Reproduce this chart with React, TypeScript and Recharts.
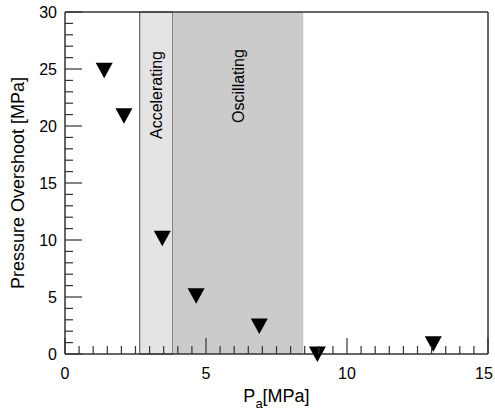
import {
  ScatterChart,
  Scatter,
  XAxis,
  YAxis,
  ReferenceArea,
  Label,
} from "recharts";

const pressureA = [1.39, 2.09, 3.45, 4.65, 6.89, 8.95, 13.06];
const overshoot = [24.9, 20.9, 10.15, 5.1, 2.45, 0, 0.9];

const accelRange = [2.65, 3.82];
const oscRange = [3.82, 8.45];

const xTicks = Array.from({ length: 31 }, (_, i) => i * 0.5);
const yTicks = Array.from({ length: 31 }, (_, i) => i);

const points = pressureA.map((p, i) => ({ p, y: overshoot[i] }));

const FONT = "'Liberation Sans', Arial, sans-serif";
const AXIS = "#333";

const isMajor = (v: number) => v % 5 === 0;

function BottomTick({ x, y, payload }: any) {
  const major = isMajor(payload.value);
  // keep the last label inside the picture
  const tx = Math.min(x, 484);
  return (
    <g>
      <line x1={x} y1={y} x2={x} y2={y - (major ? 16 : 8)} stroke={AXIS} strokeWidth={1.2} />
      {major && (
        <text x={tx} y={y + 25} textAnchor="middle" fontSize={16} fontFamily={FONT} fill="#000">
          {payload.value}
        </text>
      )}
    </g>
  );
}

function TopTick({ x, y, payload }: any) {
  const major = isMajor(payload.value);
  return <line x1={x} y1={y} x2={x} y2={y + (major ? 16 : 8)} stroke={AXIS} strokeWidth={1.2} />;
}

function LeftTick({ x, y, payload }: any) {
  const major = isMajor(payload.value);
  return (
    <g>
      <line x1={x} y1={y} x2={x + (major ? 17 : 8)} y2={y} stroke={AXIS} strokeWidth={1.2} />
      {major && (
        <text x={x - 8} y={y + 6} textAnchor="end" fontSize={16} fontFamily={FONT} fill="#000">
          {payload.value}
        </text>
      )}
    </g>
  );
}

function RightTick({ x, y, payload }: any) {
  const major = isMajor(payload.value);
  return <line x1={x} y1={y} x2={x - (major ? 17 : 8)} y2={y} stroke={AXIS} strokeWidth={1.2} />;
}

function TriangleDown({ cx, cy }: any) {
  return (
    <polygon
      points={`${cx - 8.5},${cy - 7.5} ${cx + 8.5},${cy - 7.5} ${cx},${cy + 8}`}
      fill="#000"
    />
  );
}

function regionLabel(text: string, dy: number) {
  return ({ viewBox }: any) => {
    const cx = viewBox.x + viewBox.width / 2 + 6;
    const cy = viewBox.y + dy;
    return (
      <text
        x={cx}
        y={cy}
        transform={`rotate(-90, ${cx}, ${cy})`}
        textAnchor="middle"
        fontSize={16}
        fontFamily={FONT}
        fill="#000"
      >
        {text}
      </text>
    );
  };
}

export default function App() {
  return (
    <div style={{ position: "absolute", left: 0, top: 0 }}>
      <ScatterChart
        width={495}
        height={416}
        margin={{ top: 11, right: 6, bottom: 61, left: 64 }}
      >
        <ReferenceArea
          x1={accelRange[0]}
          x2={accelRange[1]}
          fill="#e4e4e4"
          fillOpacity={1}
          stroke="#444"
          strokeWidth={1}
        >
          <Label content={regionLabel("Accelerating", 83)} />
        </ReferenceArea>
        <ReferenceArea x1={oscRange[0]} x2={oscRange[1]} fill="#cbcbcb" fillOpacity={1}>
          <Label content={regionLabel("Oscillating", 74)} />
        </ReferenceArea>
        <XAxis
          type="number"
          dataKey="p"
          domain={[0, 15]}
          ticks={xTicks}
          interval={0}
          height={1}
          tickSize={0}
          tickMargin={0}
          tickLine={false}
          tick={<BottomTick />}
          axisLine={{ stroke: AXIS, strokeWidth: 1.5 }}
        >
          <Label
            content={({ viewBox }: any) => (
              <text
                x={viewBox.x + viewBox.width / 2}
                y={viewBox.y + 48}
                textAnchor="middle"
                fontSize={18}
                fontFamily={FONT}
                fill="#000"
              >
                <tspan>P</tspan>
                <tspan fontSize={13} dy={6}>a</tspan>
                <tspan dy={-6}>[MPa]</tspan>
              </text>
            )}
          />
        </XAxis>
        <XAxis
          xAxisId="top"
          orientation="top"
          type="number"
          domain={[0, 15]}
          ticks={xTicks}
          interval={0}
          height={1}
          tickSize={0}
          tickMargin={0}
          tickLine={false}
          tick={<TopTick />}
          axisLine={{ stroke: AXIS, strokeWidth: 1.5 }}
        />
        <YAxis
          type="number"
          dataKey="y"
          domain={[0, 30]}
          ticks={yTicks}
          interval={0}
          width={1}
          tickSize={0}
          tickMargin={0}
          tickLine={false}
          tick={<LeftTick />}
          axisLine={{ stroke: AXIS, strokeWidth: 1.5 }}
        >
          <Label
            content={({ viewBox }: any) => {
              const x = viewBox.x + viewBox.width - 41;
              const y = viewBox.y + viewBox.height / 2;
              return (
                <text
                  x={x}
                  y={y}
                  transform={`rotate(-90, ${x}, ${y})`}
                  textAnchor="middle"
                  fontSize={18}
                  fontFamily={FONT}
                  fill="#000"
                >
                  Pressure Overshoot [MPa]
                </text>
              );
            }}
          />
        </YAxis>
        <YAxis
          yAxisId="right"
          orientation="right"
          type="number"
          domain={[0, 30]}
          ticks={yTicks}
          interval={0}
          width={1}
          tickSize={0}
          tickMargin={0}
          tickLine={false}
          tick={<RightTick />}
          axisLine={{ stroke: AXIS, strokeWidth: 1.5 }}
        />
        <Scatter data={points} shape={<TriangleDown />} isAnimationActive={false} />
      </ScatterChart>
    </div>
  );
}
